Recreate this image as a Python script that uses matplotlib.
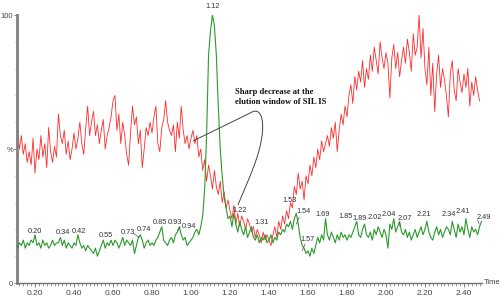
import numpy as np
import matplotlib
matplotlib.use("Agg")
import matplotlib.pyplot as plt
from matplotlib.ticker import MultipleLocator, FixedLocator
from matplotlib.path import Path
from matplotlib.patches import PathPatch

# ---------------- data ----------------
t_start = 0.10
t_step = 0.01

red_vals = [
    53, 57, 50, 55, 48, 52, 45, 49, 44, 54,
    41, 50, 46, 55, 47, 52, 43, 58, 49, 45,
    51, 47, 63, 55, 52, 57, 48, 53, 46, 50,
    56, 50, 54, 60, 52, 48, 58, 66, 55, 60,
    64, 55, 59, 52, 57, 61, 50, 55, 58, 62,
    68, 70, 57, 63, 52, 60, 55, 48, 44, 56,
    66, 59, 62, 52, 57, 43, 50, 58, 55, 60,
    56, 62, 66, 52, 49, 58, 61, 68, 60, 57,
    55, 59, 49, 60, 54, 66, 57, 52, 55, 50,
    54, 57, 52, 55, 47, 50, 42, 46, 38, 44,
    40, 35, 42, 36, 33, 38, 30, 34, 28, 31,
    27, 24, 29, 22, 26, 21, 25, 23, 20, 24,
    22, 19, 21, 17, 20, 18, 15, 19, 16, 18,
    16, 14, 18, 21, 17, 23, 20, 25, 22, 27,
    24, 30, 28, 36, 33, 41, 35, 38, 31, 40,
    37, 44, 40, 47, 43, 50, 46, 53, 49, 52,
    55, 51, 58, 54, 60, 49, 57, 63, 59, 66,
    62, 70, 74, 67, 77, 72, 79, 75, 83, 73,
    80, 76, 85, 79, 88, 83, 78, 90, 84, 80,
    86, 82, 69, 84, 89, 80, 86, 77, 83, 88,
    82, 91, 86, 79, 93, 85, 88, 100, 84, 95,
    80, 74, 88, 70, 82, 64, 78, 85, 73, 80,
    76, 70, 62, 78, 83, 72, 68, 80, 75, 71,
    78, 73, 80, 66, 75, 70, 77, 72, 68,
]

green_vals = [
    14, 13, 15, 14, 16, 13, 15, 14, 16, 15,
    18, 14, 15, 13, 16, 14, 15, 13, 14, 16,
    14, 15, 15, 17, 14, 16, 13, 15, 14, 13,
    15, 14, 18, 15, 13, 14, 12, 14, 13, 12,
    11, 13, 10, 12, 14, 16, 13, 15, 14, 16,
    14, 16, 15, 13, 15, 17, 14, 16, 15, 14,
    16, 11, 14, 17, 18, 16, 13, 15, 16, 14,
    15, 14, 16, 17, 19, 21, 16, 15, 14, 16,
    17, 15, 18, 19, 21, 18, 16, 17, 14, 15,
    16, 17, 19, 20, 18, 21, 25, 35, 55, 85,
    94, 100, 96, 85, 66, 50, 40, 32, 28, 24,
    25, 21, 26, 22, 19, 23, 20, 18, 21, 17,
    19, 21, 17, 16, 18, 15, 17, 16, 18, 15,
    16, 18, 15, 17, 16, 19, 18, 20, 19, 22,
    21, 23, 20, 24, 26, 22, 17, 14, 13, 11,
    12, 10, 13, 11, 14, 17, 15, 18, 16, 24,
    18, 16, 19, 17, 15, 18, 16, 19, 17, 18,
    16, 18, 17, 19, 21, 23, 18, 17, 20, 22,
    18, 17, 19, 16, 20, 18, 21, 19, 17, 20,
    18, 13, 22, 20, 24, 19, 21, 23, 19, 18,
    20, 17, 19, 16, 18, 20, 17, 19, 21, 18,
    20, 23, 19, 17, 16, 19, 21, 18, 20, 17,
    19, 21, 20, 18, 23, 20, 17, 22, 19, 21,
    18, 24, 20, 17, 21, 19, 20, 18, 21, 23,
]

# peak labels: text, x position (min), y position (%)
peak_labels = ["0.20", "0.34", "0.42", "0.55", "0.73", "0.74", "0.85", "0.93",
               "0.94", "1.12", "1.22", "1.31", "1.53", "1.54", "1.57", "1.69",
               "1.85", "1.89", "2.02", "2.04", "2.07", "2.21", "2.34", "2.41", "2.49"]
peak_label_x = [0.200, 0.344, 0.426, 0.564, 0.677, 0.759, 0.841, 0.918,
                0.992, 1.113, 1.251, 1.364, 1.508, 1.576, 1.600, 1.677,
                1.795, 1.867, 1.944, 2.017, 2.097, 2.195, 2.323, 2.395, 2.500]
peak_label_y = [19.4, 19.0, 19.4, 17.9, 19.0, 20.1, 22.4, 22.4,
                21.1, 103.0, 27.1, 22.4, 30.6, 26.8, 16.4, 25.7,
                25.0, 23.9, 24.6, 25.4, 23.9, 25.4, 25.4, 26.8, 24.6]

x_ticks = [0.20, 0.40, 0.60, 0.80, 1.00, 1.20, 1.40, 1.60, 1.80, 2.00, 2.20, 2.40]
y_ticks = [0, 50, 100]
y_tick_labels = ["0", "%", "100"]

annotation_text = "Sharp decrease at the\nelution window of SIL IS"

# ---------------- plot ----------------
t_red = t_start + t_step * np.arange(len(red_vals))
t_green = t_start + t_step * np.arange(len(green_vals))

fig = plt.figure(figsize=(5.0, 2.97), dpi=100)
ax = fig.add_axes([16.5 / 500, 14 / 297, 465 / 500, 268 / 297])

ax.plot(t_red, red_vals, color="#ff2a2a", lw=0.6, zorder=2)
ax.plot(t_green, green_vals, color="#2b9a2b", lw=0.8, zorder=3)

ax.set_xlim(0.105, 2.49)
ax.set_ylim(0, 100)

for s in ["top", "right"]:
    ax.spines[s].set_visible(False)
ax.spines["left"].set_color("#808080")
ax.spines["left"].set_linewidth(2.0)
ax.spines["bottom"].set_color("#707070")
ax.spines["bottom"].set_linewidth(1.0)

ax.set_xticks(x_ticks)
ax.set_xticklabels(["%.2f" % v for v in x_ticks])
ax.xaxis.set_minor_locator(MultipleLocator(0.02))
ax.set_yticks(y_ticks)
ax.set_yticklabels(y_tick_labels)
ax.yaxis.set_minor_locator(FixedLocator([10, 20, 30, 40, 60, 70, 80, 90]))

ax.tick_params(axis="x", which="major", length=3, width=0.6, color="#707070",
               pad=2, labelsize=6, labelcolor="#444444")
ax.tick_params(axis="x", which="minor", length=2, width=0.5, color="#707070")
ax.tick_params(axis="y", which="major", length=2, width=0.6, color="#707070",
               pad=0.5, labelsize=5.5, labelcolor="#444444")
ax.tick_params(axis="y", which="minor", length=1.5, width=0.5, color="#909090")
for lab in ax.get_xticklabels() + ax.get_yticklabels():
    lab.set_family(["Liberation Sans", "DejaVu Sans"])

ax.text(1.004, 0.0, "Time", transform=ax.transAxes, ha="left", va="center",
        clip_on=False, family=["Liberation Sans", "DejaVu Sans"], size=5.5,
        color="#444444")

for txt, lx, ly in zip(peak_labels, peak_label_x, peak_label_y):
    col = "#333333" if txt != "1.53" else "#3a2040"
    ax.text(lx, ly, txt, ha="center", va="center", clip_on=False,
            family=["Liberation Sans", "DejaVu Sans"], size=5.3, color=col, zorder=5)

# small leader lines
leaders = [((0.705, 18.5), (0.735, 17.0)), ((0.93, 19.5), (0.945, 21.0)),
           ((1.585, 14.5), (1.57, 12.0)), ((1.555, 24.5), (1.54, 22.0)),
           ((2.07, 22.5), (2.072, 21.0)), ((2.47, 23.5), (2.478, 22.0))]
for (x0, y0), (x1, y1) in leaders:
    ax.plot([x0, x1], [y0, y1], color="#555555", lw=0.5, zorder=5, clip_on=False)

# annotation
ax.text(1.226, 69.4, annotation_text, ha="left", va="center",
        family=["Liberation Serif", "DejaVu Serif"], weight="bold", size=6.2,
        color="#111111", linespacing=1.25, zorder=6)
verts = [(1.010, 53.0), (1.303, 63.4),
         (1.345, 65.5), (1.372, 63.0), (1.367, 57.0),
         (1.36, 48.0), (1.29, 38.0), (1.241, 29.1)]
codes = [Path.MOVETO, Path.LINETO,
         Path.CURVE4, Path.CURVE4, Path.CURVE4,
         Path.CURVE4, Path.CURVE4, Path.CURVE4]
ax.add_patch(PathPatch(Path(verts, codes), facecolor="none", edgecolor="#444444",
                       lw=0.7, zorder=6))

fig.savefig("out.png", dpi=100, facecolor="white")
